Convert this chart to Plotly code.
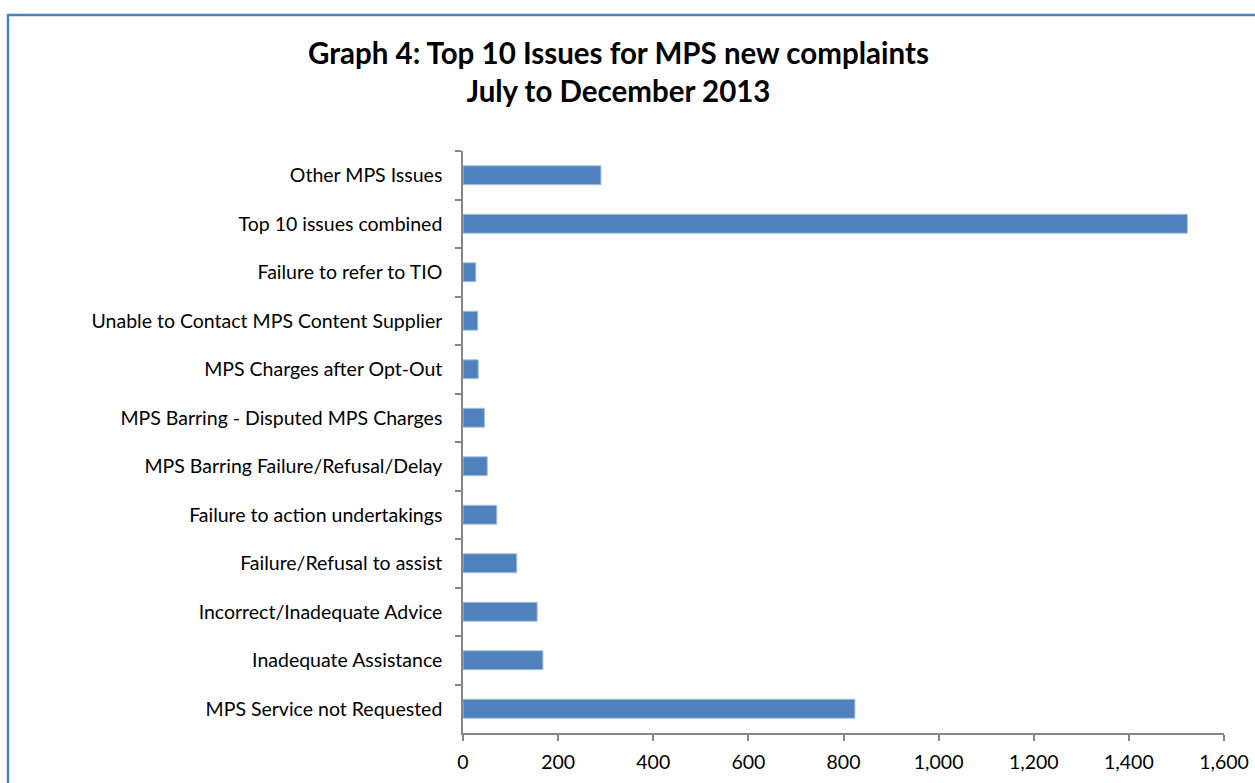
import plotly.graph_objects as go

categories = [
    "Other MPS Issues",
    "Top 10 issues combined",
    "Failure to refer to TIO",
    "Unable to Contact MPS Content Supplier",
    "MPS Charges after Opt-Out",
    "MPS Barring - Disputed MPS Charges",
    "MPS Barring Failure/Refusal/Delay",
    "Failure to action undertakings",
    "Failure/Refusal to assist",
    "Incorrect/Inadequate Advice",
    "Inadequate Assistance",
    "MPS Service not Requested",
]
values = [290, 1523, 27, 31, 32, 45, 51, 71, 113, 156, 168, 824]
x_ticks = [0, 200, 400, 600, 800, 1000, 1200, 1400, 1600]
x_tick_labels = ["0", "200", "400", "600", "800", "1,000", "1,200", "1,400", "1,600"]

W, H = 1255, 783
L, R, T, B = 463, 31, 151, 50
pw, ph = W - L - R, H - T - B

fig = go.Figure(go.Bar(
    x=values, y=categories, orientation="h",
    marker=dict(color="#4F81BD", line=dict(color="#A7C0E0", width=1)),
    width=0.39,
))

font_family = "Lato, Open Sans, sans-serif"
fig.update_layout(
    width=W, height=H,
    margin=dict(l=L, r=R, t=T, b=B, autoexpand=False),
    paper_bgcolor="white", plot_bgcolor="white",
    showlegend=False,
    font=dict(family=font_family, size=19.5, color="black"),
    xaxis=dict(range=[0, 1600], tickvals=x_ticks, ticktext=x_tick_labels,
               showgrid=False, zeroline=False, showline=True, automargin=False,
               linecolor="#868686", linewidth=1.5, ticks="outside",
               ticklen=6, tickcolor="#868686", tickwidth=1.5,
               tickfont=dict(size=19.5), ticklabelstandoff=5),
    yaxis=dict(autorange="reversed", showgrid=False, zeroline=False,
               showline=True, automargin=False,
               linecolor="#868686", linewidth=1.5,
               ticks="outside", ticklen=6, tickcolor="#868686", tickwidth=1.5,
               tickson="boundaries", tickfont=dict(size=19.5),
               ticklabelstandoff=15),
    annotations=[dict(
        text="<b>Graph 4: Top 10 Issues for MPS new complaints<br>July to December 2013</b>",
        xref="paper", yref="paper",
        x=(618.5 - L) / pw, y=(H - B - 33) / ph,
        xanchor="center", yanchor="top", showarrow=False,
        font=dict(family=font_family, size=29.5, color="black"),
        align="center",
    )],
    shapes=[dict(
        type="rect", xref="paper", yref="paper",
        x0=(8 - L) / pw, x1=1.2, y0=-0.3, y1=(H - B - 15) / ph,
        line=dict(color="#4F81BD", width=2.5), fillcolor="rgba(0,0,0,0)",
        layer="below",
    )],
)

fig.write_html("out.html")
